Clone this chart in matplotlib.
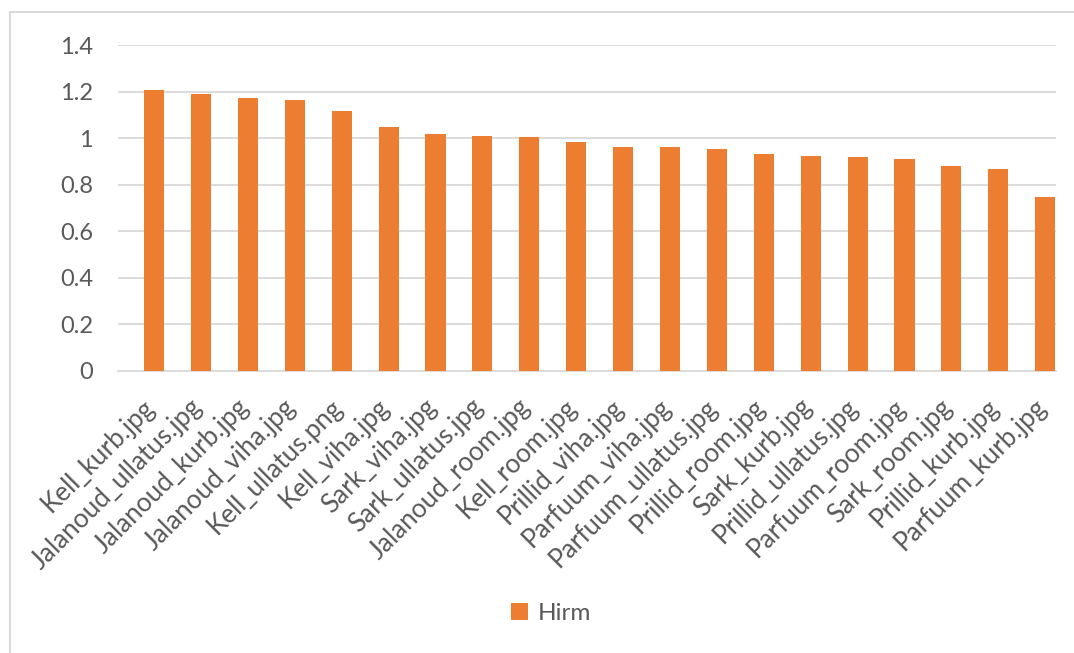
import matplotlib
matplotlib.use('Agg')
import matplotlib.pyplot as plt
from matplotlib.patches import Rectangle

labels = [
    "Kell_kurb.jpg", "Jalanoud_ullatus.jpg", "Jalanoud_kurb.jpg", "Jalanoud_viha.jpg",
    "Kell_ullatus.png", "Kell_viha.jpg", "Sark_viha.jpg", "Sark_ullatus.jpg",
    "Jalanoud_room.jpg", "Kell_room.jpg", "Prillid_viha.jpg", "Parfuum_viha.jpg",
    "Parfuum_ullatus.jpg", "Prillid_room.jpg", "Sark_kurb.jpg", "Prillid_ullatus.jpg",
    "Parfuum_room.jpg", "Sark_room.jpg", "Prillid_kurb.jpg", "Parfuum_kurb.jpg",
]
hirm = [1.206, 1.188, 1.171, 1.163, 1.115, 1.046, 1.016, 1.010, 1.003, 0.984,
        0.960, 0.960, 0.954, 0.930, 0.923, 0.917, 0.911, 0.880, 0.868, 0.745]
yticks = [0, 0.2, 0.4, 0.6, 0.8, 1.0, 1.2, 1.4]
ytick_labels = ["0", "0.2", "0.4", "0.6", "0.8", "1", "1.2", "1.4"]

ORANGE = "#ED7D31"
GRID = "#D9D9D9"
TEXT = "#595959"

plt.rcParams['font.family'] = ['Lato', 'DejaVu Sans']

fig = plt.figure(figsize=(10.74, 6.53), dpi=100)
ax = fig.add_axes([0.1099, 0.4326, 0.8733, 0.4984])

x = list(range(len(labels)))
ax.bar(x, hirm, width=0.43, color=ORANGE, label="Hirm", zorder=3)

ax.set_xlim(-0.77, 19.23)
ax.set_ylim(0, 1.4)
ax.set_yticks(yticks)
ax.set_yticklabels(ytick_labels)
ax.set_xticks(x)
ax.set_xticklabels([])

# rotated category labels, sitting slightly left of each bar centre
for xi, name in zip(x, labels):
    ax.annotate(name, xy=(xi, 0), xycoords=('data', 'axes fraction'),
                xytext=(-8.6, -17), textcoords='offset points',
                rotation=45, ha='right', va='top', rotation_mode='anchor',
                fontsize=18.8, color=TEXT, annotation_clip=False)

ax.grid(axis='y', color=GRID, linewidth=1.3, zorder=0)
for s in ['top', 'right', 'left']:
    ax.spines[s].set_visible(False)
ax.spines['bottom'].set_color(GRID)
ax.spines['bottom'].set_linewidth(1.3)
ax.tick_params(axis='both', length=0, labelcolor=TEXT)
ax.tick_params(axis='y', pad=18, labelsize=17)

fig.legend(loc='center', bbox_to_anchor=(0.513, 0.06), frameon=False,
           fontsize=17.5, labelcolor=TEXT, handlelength=0.7, handleheight=0.7,
           handletextpad=0.4)

# outer chart border
fig.patches.append(Rectangle((10 / 1074, -0.1), 1.2, (653 - 12) / 653 + 0.1,
                             transform=fig.transFigure, fill=False,
                             edgecolor=GRID, linewidth=1.5))

fig.savefig("out.png", dpi=100)
